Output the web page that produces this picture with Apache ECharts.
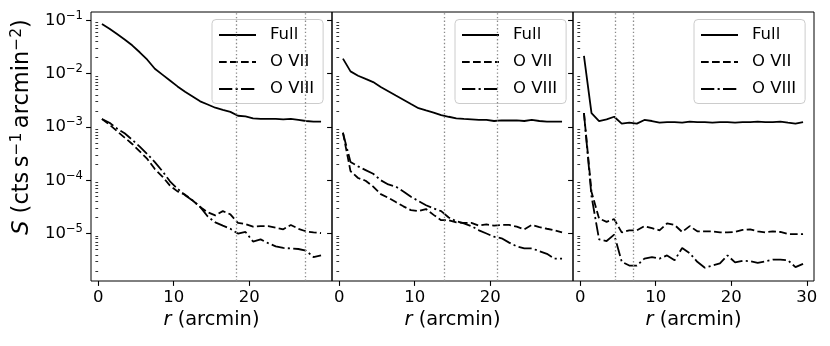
<!DOCTYPE html>
<html><head><meta charset="utf-8">
<script src="https://cdn.jsdelivr.net/npm/echarts@6/dist/echarts.min.js"></script>
<style>html,body{margin:0;padding:0;background:#fff}#c{width:830px;height:346px}</style>
</head><body><div id="c"></div>
<script>
// radius bins (arcmin)
const rValues = [0.5,1.5,2.5,3.5,4.5,5.5,6.5,7.5,8.5,9.5,10.5,11.5,12.5,13.5,14.5,15.5,16.5,17.5,18.5,19.5,20.5,21.5,22.5,23.5,24.5,25.5,26.5,27.5,28.5,29.5];
const seriesNames = ['Full', 'O VII', 'O VIII'];

// Panel 1
const fullA = [0.0851,0.0692,0.0550,0.0437,0.0339,0.0251,0.0182,0.0123,0.00955,0.00741,0.00575,0.00457,0.00372,0.00302,0.00263,0.00229,0.00209,0.00191,0.00162,0.00158,0.00145,0.00141,0.00141,0.00141,0.00138,0.00141,0.00135,0.00129,0.00126,0.00126];
const o7A = [1.41e-3,1.10e-3,8.32e-4,6.31e-4,4.79e-4,3.47e-4,2.51e-4,1.62e-4,1.17e-4,7.94e-5,6.17e-5,5.37e-5,4.17e-5,3.16e-5,2.51e-5,2.19e-5,2.63e-5,2.29e-5,1.58e-5,1.51e-5,1.35e-5,1.38e-5,1.38e-5,1.29e-5,1.20e-5,1.45e-5,1.23e-5,1.10e-5,1.05e-5,1.02e-5];
const o8A = [1.41e-3,1.20e-3,9.33e-4,7.59e-4,5.75e-4,4.27e-4,3.09e-4,2.19e-4,1.48e-4,9.55e-5,6.92e-5,5.25e-5,4.17e-5,3.16e-5,2.09e-5,1.62e-5,1.41e-5,1.23e-5,1.00e-5,1.07e-5,7.08e-6,7.76e-6,6.61e-6,5.75e-6,5.37e-6,5.25e-6,5.13e-6,4.79e-6,3.63e-6,3.89e-6];
// Panel 2
const fullB = [0.0191,0.0110,0.00912,0.00794,0.00692,0.00562,0.00468,0.00389,0.00324,0.00269,0.00224,0.00204,0.00186,0.00166,0.00155,0.00145,0.00141,0.00138,0.00135,0.00135,0.00129,0.00132,0.00132,0.00132,0.00129,0.00135,0.00129,0.00126,0.00126,0.00126];
const o7B = [7.76e-4,1.48e-4,1.10e-4,9.77e-5,7.59e-5,5.50e-5,4.68e-5,3.89e-5,3.24e-5,2.75e-5,2.63e-5,2.88e-5,2.24e-5,1.78e-5,1.78e-5,1.62e-5,1.58e-5,1.58e-5,1.41e-5,1.48e-5,1.41e-5,1.45e-5,1.45e-5,1.35e-5,1.20e-5,1.45e-5,1.32e-5,1.23e-5,1.15e-5,1.05e-5];
const o8B = [7.76e-4,2.19e-4,1.82e-4,1.55e-4,1.32e-4,1.00e-4,8.32e-5,7.59e-5,6.17e-5,4.90e-5,4.07e-5,3.39e-5,2.95e-5,2.63e-5,2.00e-5,1.70e-5,1.55e-5,1.38e-5,1.15e-5,1.00e-5,8.71e-6,8.13e-6,6.76e-6,5.75e-6,5.25e-6,5.25e-6,4.68e-6,4.17e-6,3.39e-6,3.39e-6];
// Panel 3
const fullC = [0.0214,0.00182,0.00129,0.00138,0.00155,0.00115,0.00120,0.00115,0.00135,0.00129,0.00120,0.00123,0.00123,0.00120,0.00126,0.00123,0.00123,0.00120,0.00123,0.00123,0.00120,0.00123,0.00123,0.00126,0.00123,0.00123,0.00126,0.00120,0.00115,0.00123];
const o7C = [1.82e-3,6.03e-5,1.91e-5,1.66e-5,1.86e-5,1.05e-5,1.15e-5,1.15e-5,1.38e-5,1.26e-5,1.15e-5,1.55e-5,1.45e-5,1.07e-5,1.38e-5,1.10e-5,1.10e-5,1.10e-5,1.05e-5,1.05e-5,1.07e-5,1.17e-5,1.20e-5,1.10e-5,1.05e-5,1.10e-5,1.07e-5,9.77e-6,9.77e-6,9.77e-6];
const o8C = [1.82e-3,5.01e-5,7.76e-6,7.24e-6,9.55e-6,2.95e-6,2.51e-6,2.51e-6,3.39e-6,3.63e-6,3.39e-6,3.89e-6,3.16e-6,5.37e-6,4.27e-6,2.95e-6,2.29e-6,2.51e-6,2.75e-6,3.89e-6,2.88e-6,3.09e-6,3.02e-6,2.82e-6,3.02e-6,3.24e-6,3.24e-6,3.16e-6,2.34e-6,2.69e-6];

// vertical dotted reference radii
const vLinesA = [18.25, 27.4];
const vLinesB = [13.93, 20.86];
const vLinesC = [4.7, 7.04];

// tick labels
const xTicksA = [0, 10, 20];
const xTicksC = [0, 10, 20, 30];
const yTickExps = [-5, -4, -3, -2, -1];

const panels = [
  {series: [fullA, o7A, o8A], vlines: vLinesA, xticks: xTicksA},
  {series: [fullB, o7B, o8B], vlines: vLinesB, xticks: xTicksA},
  {series: [fullC, o7C, o8C], vlines: vLinesC, xticks: xTicksC}
];

const FONT = 'DejaVu Sans';
const X_MIN = -0.95, X_MAX = 30.95;
const Y_MIN = -5.89, Y_MAX = -0.845;
const gridLefts = [91, 332, 573];
const legendLefts = [212, 455, 694];
const dashTypes = ['solid', [7.7, 3.3], [13.3, 3.3, 2.1, 3.3]];

const minorExps = [];
for (let n = -7; n <= 0; n++) for (let k = 2; k <= 9; k++) {
  const v = n + Math.log10(k);
  if (v > Y_MIN && v < Y_MAX) minorExps.push(v);
}

const grids = [], xAxes = [], yAxes = [], series = [], legends = [];
panels.forEach((p, i) => {
  grids.push({left: gridLefts[i], top: 12, width: 241, height: 269, show: true,
    borderColor: '#000', borderWidth: 1, backgroundColor: 'transparent',
    containLabel: false, outerBoundsMode: 'none'});
  xAxes.push({type: 'value', gridIndex: i, min: X_MIN, max: X_MAX,
    axisLine: {show: false, onZero: false},
    axisTick: {show: true, customValues: p.xticks, length: 4.9, lineStyle: {color: '#000', width: 1.1}},
    axisLabel: {show: true, customValues: p.xticks, margin: 8, fontSize: 16.5, fontFamily: FONT, color: '#000'},
    splitLine: {show: false},
    name: '{i|r} (arcmin)', nameLocation: 'middle', nameGap: 24,
    nameTextStyle: {fontSize: 19.4, fontFamily: FONT, color: '#000', verticalAlign: 'middle',
      rich: {i: {fontStyle: 'italic', fontSize: 19.4, fontFamily: FONT, color: '#000'}}}
  });
  yAxes.push({type: 'value', gridIndex: i, min: Y_MIN, max: Y_MAX, position: 'left',
    axisLine: {show: false, onZero: false},
    axisTick: {show: true, customValues: yTickExps, length: 4.9, lineStyle: {color: '#000', width: 1.1}},
    axisLabel: {show: i === 0, customValues: yTickExps, margin: 8,
      formatter: v => '{b|10}{s|\u2212' + Math.abs(Math.round(v)) + '}',
      rich: {b: {fontSize: 16.5, fontFamily: FONT, color: '#000'},
             s: {fontSize: 11.6, fontFamily: FONT, color: '#000', padding: [0, 0, 9, 0]}}},
    splitLine: {show: false}
  });
  yAxes.push({type: 'value', gridIndex: i, min: Y_MIN, max: Y_MAX, position: 'left', offset: 0,
    axisLine: {show: false},
    axisTick: {show: true, customValues: minorExps, length: 2.8, lineStyle: {color: '#000', width: 0.8}},
    axisLabel: {show: false}, splitLine: {show: false}
  });
  p.series.forEach((vals, j) => {
    const s = {
      type: 'line', name: seriesNames[j], xAxisIndex: i, yAxisIndex: 2 * i,
      data: rValues.map((r, k) => [r, Math.log10(vals[k])]),
      symbol: 'circle', symbolSize: 0, showSymbol: false, animation: false, silent: true,
      lineStyle: {color: '#000', width: 1.8, type: dashTypes[j]},
      itemStyle: {color: '#000'}, z: 3
    };
    if (j === 0) {
      s.markLine = {silent: true, symbol: ['none', 'none'], animation: false,
        label: {show: false},
        lineStyle: {color: '#8a8a8a', width: 1.3, type: [1.4, 2.3]},
        data: p.vlines.map(v => ({xAxis: v}))};
    }
    series.push(s);
  });
  legends.push({data: seriesNames, left: legendLefts[i], top: 19.5, orient: 'vertical',
    itemWidth: 37, itemHeight: 12, itemGap: 10, padding: [7, 9, 6, 6],
    backgroundColor: 'rgba(255,255,255,0.8)', borderColor: '#cccccc', borderWidth: 1, borderRadius: 4,
    selectedMode: false,
    itemStyle: {color: 'rgba(0,0,0,0)', borderColor: 'rgba(0,0,0,0)', borderWidth: 0, opacity: 0},
    textStyle: {fontSize: 16.5, fontFamily: FONT, color: '#000', padding: [0, 0, 0, 9], lineHeight: 17}
  });
});

const chart = echarts.init(document.getElementById('c'), null, {renderer: 'canvas'});
chart.setOption({
  animation: false,
  backgroundColor: '#fff',
  textStyle: {fontFamily: FONT},
  grid: grids, xAxis: xAxes, yAxis: yAxes, series: series, legend: legends,
  graphic: [{type: 'text', x: 22, y: 127, rotation: Math.PI / 2, silent: true,
    style: {text: '{i|S} (cts\u2009s{s|\u22121}\u2009arcmin{s|\u22122})',
      fontSize: 22.5, fontFamily: FONT, fill: '#000', align: 'center', verticalAlign: 'middle',
      rich: {i: {fontStyle: 'italic', fontSize: 22.5, fontFamily: FONT, fill: '#000'},
             s: {fontSize: 15.5, fontFamily: FONT, fill: '#000', padding: [0, 0, 11, 0]}}}}]
});
</script>
</body></html>
